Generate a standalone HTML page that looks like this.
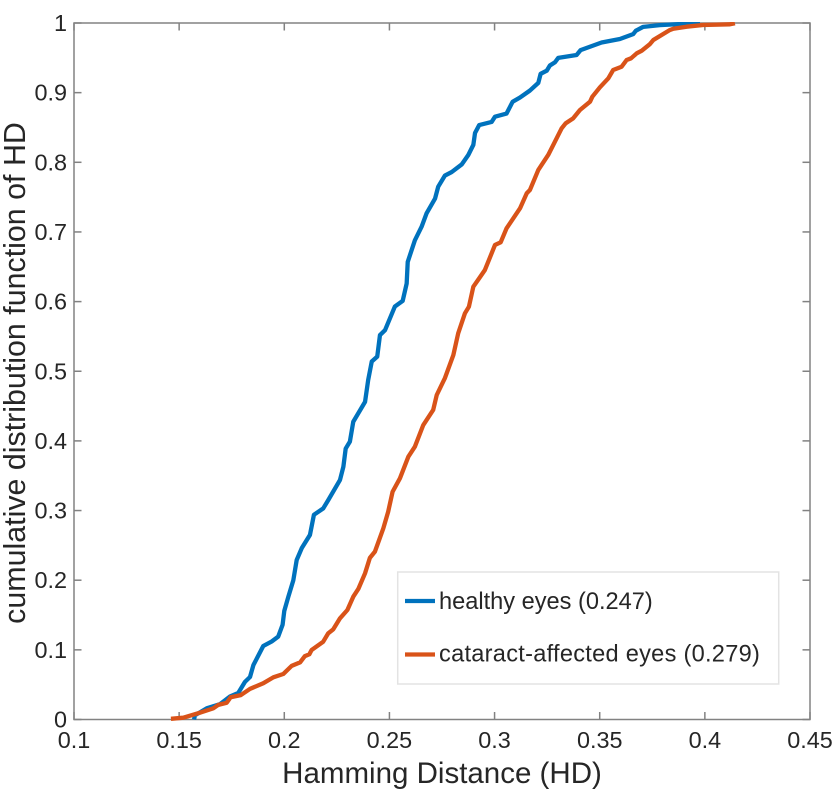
<!DOCTYPE html>
<html lang="en">
<head>
<meta charset="utf-8">
<title>Cumulative distribution of Hamming Distance</title>
<style>
html,body{margin:0;padding:0;background:#fff;}
body{width:837px;height:791px;overflow:hidden;}
svg{display:block;}
text{font-family:"Liberation Sans",Arial,sans-serif;fill:#262626;}
</style>
</head>
<body>
<svg id="chart" xmlns="http://www.w3.org/2000/svg" width="837" height="791" viewBox="0 0 837 791">
<defs><clipPath id="plot-clip"><rect x="74" y="22" width="736" height="699"></rect></clipPath></defs>
<g id="axes"></g>
<g id="series" clip-path="url(#plot-clip)"></g>
<text x="442" y="783" font-size="29.5" text-anchor="middle">Hamming Distance (HD)</text>
<text transform="translate(25,373) rotate(-90)" font-size="30.4" text-anchor="middle">cumulative distribution function of HD</text>
<g>
<rect x="397.7" y="572" width="381" height="112" fill="#fff" stroke="#e3e3e3" stroke-width="1.5"></rect>
<g>
<line x1="405" x2="435" y1="601" y2="601" stroke="#0072bd" stroke-width="4.3"></line>
<text x="439" y="609" font-size="23.6">healthy eyes (0.247)</text>
</g>
<g>
<line x1="405" x2="435" y1="654.5" y2="654.5" stroke="#d95319" stroke-width="4.3"></line>
<text x="439" y="661.5" font-size="23.6" letter-spacing="0.27">cataract-affected eyes (0.279)</text>
</g>
</g>
</svg>
<script>
const xTicks = [0.1, 0.15, 0.2, 0.25, 0.3, 0.35, 0.4, 0.45];
const xTickLabels = ['0.1', '0.15', '0.2', '0.25', '0.3', '0.35', '0.4', '0.45'];
const yTicks = [0, 0.1, 0.2, 0.3, 0.4, 0.5, 0.6, 0.7, 0.8, 0.9, 1];
const yTickLabels = ['0', '0.1', '0.2', '0.3', '0.4', '0.5', '0.6', '0.7', '0.8', '0.9', '1'];

const healthyHD = [.1571,.1575,.1631,.1694,.1742,.1781,.1813,.1837,.1853,.19,.194,.1971,.1992,.2,.2019,.2043,.2059,.2083,.2122,.2141,.2185,.2209,.2265,.2281,.2292,.2312,.2328,.2384,.2399,.2416,.2442,.2455,.2479,.2526,.2563,.2582,.2587,.2621,.2653,.2677,.2717,.2732,.2764,.2796,.2844,.2875,.2899,.2907,.2927,.2986,.3002,.3057,.3086,.3121,.3168,.3208,.3219,.3248,.3263,.3287,.3303,.339,.3409,.3509,.3596,.3659,.3672,.3707,.3786,.3913,.3977];
const healthyCDF = [0,.006,.016,.022,.033,.038,.054,.061,.078,.1055,.112,.119,.136,.156,.176,.2,.229,.246,.265,.294,.303,.315,.344,.363,.389,.399,.4275,.456,.4875,.514,.521,.552,.559,.593,.601,.626,.657,.688,.7075,.727,.748,.765,.781,.786,.797,.8105,.825,.842,.8535,.858,.8655,.87,.887,.893,.903,.914,.927,.9315,.939,.9435,.95,.954,.961,.972,.977,.984,.989,.9945,.997,.999,1];

const cataractHD = [.1461,.152,.1599,.1662,.1686,.1726,.1745,.1793,.1837,.19,.1948,.1995,.2035,.2075,.2098,.2119,.213,.2185,.2209,.2233,.2265,.23,.2328,.2352,.2384,.2407,.2431,.2471,.2494,.2515,.255,.259,.2621,.2661,.2708,.2725,.2764,.2804,.2827,.2859,.2878,.2899,.2927,.2954,.3002,.3029,.3057,.3121,.3153,.3168,.3208,.3255,.3287,.3319,.3338,.3374,.3406,.3454,.3465,.3501,.3541,.3564,.3604,.3628,.3649,.3676,.37,.3739,.3755,.3834,.385,.3913,.3992,.4119,.4143];
const cataractCDF = [.001,.0026,.0098,.016,.021,.024,.032,.035,.044,.052,.0606,.0653,.077,.082,.091,.0936,.0998,.1117,.1238,.1295,.1453,.1572,.1763,.1874,.2099,.232,.241,.2745,.2983,.327,.3463,.3773,.3917,.4228,.4444,.4659,.4903,.5233,.5545,.5832,.5927,.6214,.6335,.6454,.6813,.6851,.7052,.7339,.7555,.7602,.789,.8105,.8296,.8488,.856,.8632,.8751,.887,.8942,.9077,.9206,.9325,.9372,.9469,.9493,.9565,.9602,.9698,.9756,.99,.9918,.9947,.9971,.9981,.9996];

const NS = 'http://www.w3.org/2000/svg';
const plotLeft = 74, plotRight = 810, plotTop = 23, plotBottom = 719.5;
const xMin = 0.1, xMax = 0.45, yMin = 0, yMax = 1;
const axisColor = '#828282';
const tickLength = 7.5;

function xScale(v) { return plotLeft + (v - xMin) / (xMax - xMin) * (plotRight - plotLeft); }
function yScale(v) { return plotBottom - (v - yMin) / (yMax - yMin) * (plotBottom - plotTop); }

function makeLine(x1, y1, x2, y2) {
  const l = document.createElementNS(NS, 'line');
  l.setAttribute('x1', x1);
  l.setAttribute('y1', y1);
  l.setAttribute('x2', x2);
  l.setAttribute('y2', y2);
  l.setAttribute('stroke', axisColor);
  l.setAttribute('stroke-width', '1.5');
  return l;
}

const axes = document.getElementById('axes');

const frame = document.createElementNS(NS, 'rect');


frame.setAttribute('x', plotLeft);
frame.setAttribute('y', plotTop);
frame.setAttribute('width', plotRight - plotLeft);
frame.setAttribute('height', plotBottom - plotTop);
frame.setAttribute('fill', 'none');
frame.setAttribute('stroke', axisColor);
frame.setAttribute('stroke-width', '1.5');
axes.appendChild(frame);

xTicks.forEach(function (t, i) {
  const x = xScale(t);
  const bottomTick = makeLine(x, plotBottom, x, plotBottom - tickLength);
  
  
  axes.appendChild(bottomTick);
  const topTick = makeLine(x, plotTop, x, plotTop + tickLength);
  
  
  axes.appendChild(topTick);
  const label = document.createElementNS(NS, 'text');
  
  
  label.setAttribute('x', x);
  label.setAttribute('y', 748);
  label.setAttribute('font-size', '23.4');
  label.setAttribute('text-anchor', 'middle');
  label.textContent = xTickLabels[i];
  axes.appendChild(label);
});

yTicks.forEach(function (t, i) {
  const y = yScale(t);
  const leftTick = makeLine(plotLeft, y, plotLeft + tickLength, y);
  
  
  axes.appendChild(leftTick);
  const rightTick = makeLine(plotRight, y, plotRight - tickLength, y);
  
  
  axes.appendChild(rightTick);
  const label = document.createElementNS(NS, 'text');
  
  
  label.setAttribute('x', 67);
  label.setAttribute('y', y + 8);
  label.setAttribute('font-size', '23.4');
  label.setAttribute('text-anchor', 'end');
  label.textContent = yTickLabels[i];
  axes.appendChild(label);
});

function pointsFrom(xs, ys) {
  return xs.map(function (v, i) { return xScale(v).toFixed(2) + ',' + yScale(ys[i]).toFixed(2); }).join(' ');
}

const seriesGroup = document.getElementById('series');

const healthyLine = document.createElementNS(NS, 'polyline');


healthyLine.setAttribute('points', pointsFrom(healthyHD, healthyCDF));
healthyLine.setAttribute('fill', 'none');
healthyLine.setAttribute('stroke', '#0072bd');
healthyLine.setAttribute('stroke-width', '4.3');
healthyLine.setAttribute('stroke-linejoin', 'round');
seriesGroup.appendChild(healthyLine);

const cataractLine = document.createElementNS(NS, 'polyline');


cataractLine.setAttribute('points', pointsFrom(cataractHD, cataractCDF));
cataractLine.setAttribute('fill', 'none');
cataractLine.setAttribute('stroke', '#d95319');
cataractLine.setAttribute('stroke-width', '4.3');
cataractLine.setAttribute('stroke-linejoin', 'round');
seriesGroup.appendChild(cataractLine);
</script>
</body>
</html>
